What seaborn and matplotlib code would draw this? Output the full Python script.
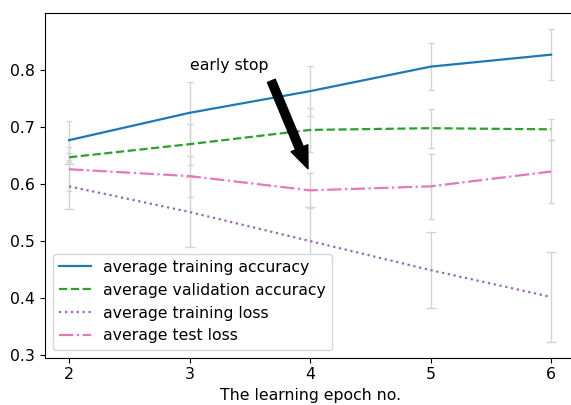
import matplotlib
matplotlib.use("Agg")
import matplotlib.pyplot as plt
import seaborn as sns
import pandas as pd

epochs = [2, 3, 4, 5, 6]
train_acc = [0.677, 0.725, 0.763, 0.806, 0.827]
train_acc_err = [0.034, 0.054, 0.044, 0.041, 0.045]
val_acc = [0.647, 0.670, 0.695, 0.698, 0.696]
val_acc_err = [0.008, 0.036, 0.038, 0.034, 0.018]
train_loss = [0.596, 0.551, 0.500, 0.449, 0.402]
train_loss_err = [0.040, 0.061, 0.060, 0.067, 0.079]
test_loss = [0.626, 0.614, 0.589, 0.596, 0.622]
test_loss_err = [0.039, 0.036, 0.031, 0.057, 0.056]

labels = ["average training accuracy", "average validation accuracy",
          "average training loss", "average test loss"]
series = [train_acc, val_acc, train_loss, test_loss]
errs = [train_acc_err, val_acc_err, train_loss_err, test_loss_err]
colors = ["#1f77b4", "#2ca02c", "#9467bd", "#e377c2"]
styles = ["-", "--", ":", "-."]
capsizes = [2, 2, 3.5, 2]

FS = 11.3
plt.rcParams['font.family'] = ['DejaVu Sans']
fig = plt.figure(figsize=(5.71, 4.05), dpi=100)
ax = fig.add_axes([0.0788, 0.117, 0.9286, 0.850])

for y, e, cs in zip(series, errs, capsizes):
    ax.errorbar(epochs, y, yerr=e, fmt='none', ecolor='#d3d3d3', elinewidth=1,
                capsize=cs, zorder=1)

for y, lab, c, ls in zip(series, labels, colors, styles):
    df = pd.DataFrame({"epoch": epochs, "value": y})
    sns.lineplot(data=df, x="epoch", y="value", ax=ax, color=c, linestyle=ls,
                 label=lab, linewidth=1.6, zorder=3)

ax.set_xticks(epochs)
ax.set_xlabel("The learning epoch no.", fontsize=FS, labelpad=4)
ax.set_ylabel("")
ax.tick_params(labelsize=FS)
ax.legend(loc="lower left", fontsize=FS)

ax.annotate("early stop", xy=(4, 0.618), xytext=(3, 0.8), fontsize=FS,
            arrowprops=dict(facecolor="black", shrink=0.05, width=6,
                            headwidth=13, headlength=16))

fig.savefig("out.png", dpi=100)
